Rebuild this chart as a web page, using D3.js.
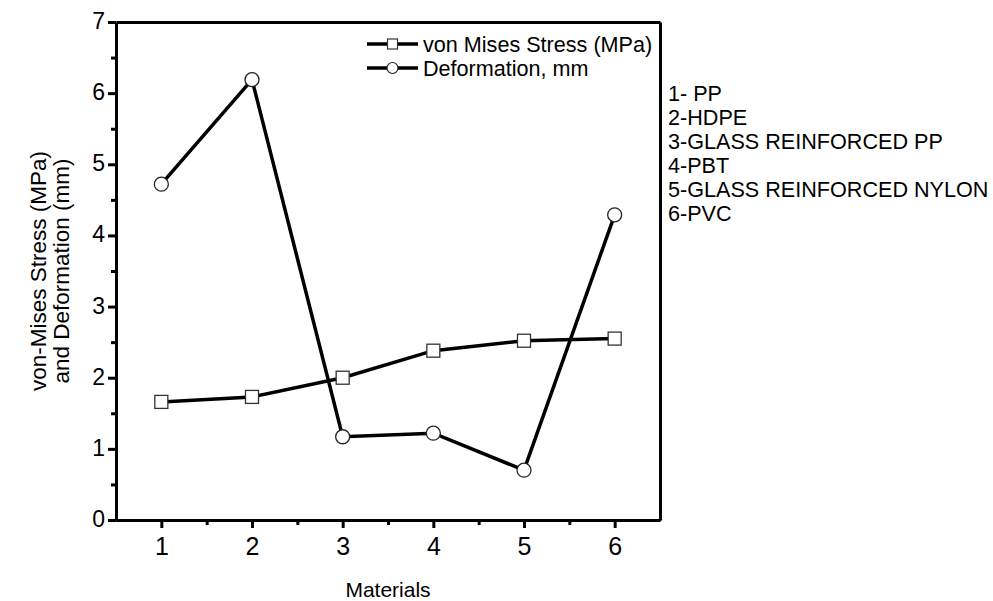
<!DOCTYPE html>
<html>
<head>
<meta charset="utf-8">
<script src="https://cdn.jsdelivr.net/npm/d3@7"></script>
<style>
  body { margin: 0; background: #fff; }
  text { font-family: "Liberation Sans", Arial, sans-serif; fill: #000; }
</style>
</head>
<body>
<div id="chart"></div>
<script>
const width = 993;
const height = 601;

const materials = [1, 2, 3, 4, 5, 6];
const stress = [1.66, 1.73, 2.0, 2.38, 2.52, 2.55];
const deformation = [4.72, 6.19, 1.17, 1.22, 0.70, 4.29];
const yTicks = [0, 1, 2, 3, 4, 5, 6, 7];
const yMinor = [0.5, 1.5, 2.5, 3.5, 4.5, 5.5, 6.5];
const xMinor = [1.5, 2.5, 3.5, 4.5, 5.5];
const materialNames = ["1- PP", "2-HDPE", "3-GLASS REINFORCED PP", "4-PBT", "5-GLASS REINFORCED NYLON", "6-PVC"];
const seriesNames = ["von Mises Stress (MPa)", "Deformation, mm"];

const svg = d3.select("#chart")
  .append("svg")
  .attr("width", width)
  .attr("height", height);

const x = d3.scaleLinear().domain([0.5, 6.5]).range([116, 660]);
const y = d3.scaleLinear().domain([0, 7]).range([520, 22]);

function styleAxis(g) {
  g.selectAll("path.domain").attr("stroke-width", 3).attr("stroke", "#000");
  g.selectAll(".tick line").attr("stroke-width", 3).attr("stroke", "#000");
}

// frame top / right
svg.append("g").attr("transform", `translate(0,${y(7)})`)
  .call(d3.axisTop(x).tickValues([]).tickSizeOuter(0))
  .call(styleAxis);
svg.append("g").attr("transform", `translate(${x(6.5)},0)`)
  .call(d3.axisRight(y).tickValues([]).tickSizeOuter(0))
  .call(styleAxis);

// minor ticks
svg.append("g").attr("transform", `translate(0,${y(0)})`)
  .call(d3.axisBottom(x).tickValues(xMinor).tickSize(5).tickSizeOuter(0).tickFormat(""))
  .call(styleAxis);
svg.append("g").attr("transform", `translate(${x(0.5)},0)`)
  .call(d3.axisLeft(y).tickValues(yMinor).tickSize(5).tickSizeOuter(0).tickFormat(""))
  .call(styleAxis);

// major axes
const xAxis = svg.append("g").attr("transform", `translate(0,${y(0)})`)
  .call(d3.axisBottom(x).tickValues(materials).tickFormat(d3.format("d"))
    .tickSize(8).tickSizeOuter(0).tickPadding(9))
  .call(styleAxis);
xAxis.selectAll(".tick text").attr("font-size", 25).attr("font-family", null);

const yAxis = svg.append("g").attr("transform", `translate(${x(0.5)},0)`)
  .call(d3.axisLeft(y).tickValues(yTicks).tickFormat(d3.format("d"))
    .tickSize(8).tickSizeOuter(0).tickPadding(3))
  .call(styleAxis);
yAxis.selectAll(".tick text").attr("font-size", 23).attr("font-family", null).attr("dy", "0.28em");

// axis titles
svg.append("text")
  .attr("x", (x(0.5) + x(6.5)) / 2)
  .attr("y", 597)
  .attr("text-anchor", "middle")
  .attr("font-size", 21)
  .text("Materials");

const yTitle = svg.append("text")
  .attr("transform", `translate(46,${(y(0) + y(7)) / 2}) rotate(-90)`)
  .attr("text-anchor", "middle")
  .attr("font-size", 22.5);
yTitle.append("tspan").attr("x", 0).attr("dy", 0).text("von-Mises Stress (MPa)");
yTitle.append("tspan").attr("x", 0).attr("dy", 23).text("and Deformation (mm)");

// lines
const line = d3.line().x((d, i) => x(materials[i])).y(d => y(d));

svg.append("path").datum(stress)
  .attr("d", line).attr("fill", "none").attr("stroke", "#000").attr("stroke-width", 3.5);
svg.append("path").datum(deformation)
  .attr("d", line).attr("fill", "none").attr("stroke", "#000").attr("stroke-width", 3.5);

svg.selectAll("rect.stress").data(stress).enter().append("rect")
  .attr("class", "stress")
  .attr("x", (d, i) => x(materials[i]) - 6.5)
  .attr("y", d => y(d) - 6.5)
  .attr("width", 13).attr("height", 13)
  .attr("fill", "#fff").attr("stroke", "#333").attr("stroke-width", 1.3);

svg.selectAll("circle.defo").data(deformation).enter().append("circle")
  .attr("class", "defo")
  .attr("cx", (d, i) => x(materials[i]))
  .attr("cy", d => y(d))
  .attr("r", 7)
  .attr("fill", "#fff").attr("stroke", "#222").attr("stroke-width", 1.3);

// legend
const legend = svg.append("g").attr("transform", "translate(367,44)");
seriesNames.forEach((name, i) => {
  const g = legend.append("g").attr("transform", `translate(0,${i * 24})`);
  g.append("line").attr("x1", 0).attr("x2", 51).attr("y1", 0).attr("y2", 0)
    .attr("stroke", "#000").attr("stroke-width", 3.5);
  if (i === 0) {
    g.append("rect").attr("x", 25.5 - 5).attr("y", -5).attr("width", 10).attr("height", 10)
      .attr("fill", "#fff").attr("stroke", "#333").attr("stroke-width", 1.2);
  } else {
    g.append("circle").attr("cx", 25.5).attr("cy", 0).attr("r", 5.5)
      .attr("fill", "#fff").attr("stroke", "#222").attr("stroke-width", 1.2);
  }
  g.append("text").attr("x", 56).attr("y", 8).attr("font-size", 21.6).text(name);
});

// material names
const names = svg.append("g").attr("transform", "translate(668,101)");
names.selectAll("text").data(materialNames).enter().append("text")
  .attr("x", 0)
  .attr("y", (d, i) => i * 24)
  .attr("font-size", 21.6)
  .text(d => d);
</script>
</body>
</html>
